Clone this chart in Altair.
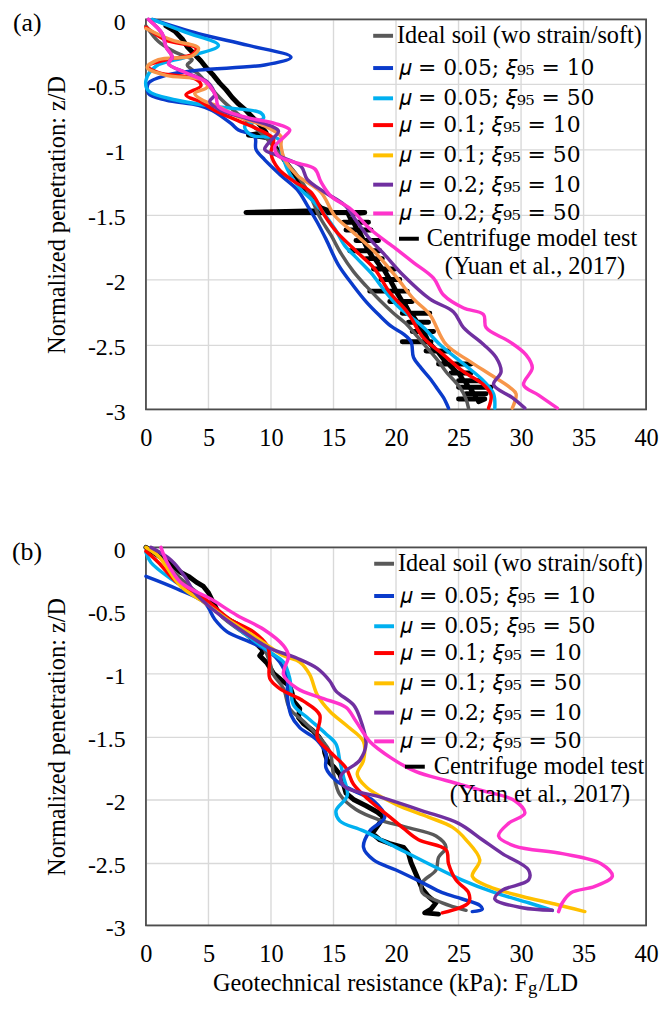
import altair as alt
import pandas as pd

# ---------------- data ----------------
X_TICKS = [0, 5, 10, 15, 20, 25, 30, 35, 40]
Y_TICKS = [0, -0.5, -1, -1.5, -2, -2.5, -3]

LEGEND_LABELS = [
    "Ideal soil (wo strain/soft)",
    "𝜇 = 0.05; 𝜉₉₅ = 10",
    "𝜇 = 0.05; 𝜉₉₅ = 50",
    "𝜇 = 0.1; 𝜉₉₅ = 10",
    "𝜇 = 0.1; 𝜉₉₅ = 50",
    "𝜇 = 0.2; 𝜉₉₅ = 10",
    "𝜇 = 0.2; 𝜉₉₅ = 50",
    "Centrifuge model test",
]
LEGEND_NOTE = "(Yuan et al., 2017)"
PANEL_TAGS = ["(a)", "(b)"]
X_TITLE_MAIN = "Geotechnical resistance (kPa): F"
X_TITLE_SUB = "g"
X_TITLE_END = "/LD"
Y_TITLE = "Normalized penetration: z/D"

# ----- panel (a) -----
A_GRAY_X = [0.0, 1.0, 2.1, 3.0, 3.7, 3.3, 3.6, 4.2, 5.3, 6.3, 7.9, 9.5, 10.8, 12.1, 13.0, 13.9, 14.8,
            15.6, 16.6, 17.6, 18.7, 19.8, 20.9, 21.8, 22.7, 23.4, 24.0, 25.1, 25.6, 25.8]
A_GRAY_Z = [-0.05, -0.17, -0.24, -0.28, -0.31, -0.35, -0.38, -0.42, -0.54, -0.64, -0.77, -0.90, -1.05, -1.20,
            -1.33, -1.52, -1.66, -1.80, -1.94, -2.05, -2.16, -2.26, -2.35, -2.45, -2.55, -2.63, -2.71, -2.83,
            -2.92, -2.99]

A_BLUE_X = [0.5, 4.2, 8.2, 11.6, 9.5, 4.2, 1.6, 0.2, 0.2, 1.6, 4.2, 5.3, 6.8, 7.4, 8.7, 8.8, 9.5, 10.8,
            12.1, 12.9, 13.7, 14.4, 15.4, 16.6, 17.6, 18.6, 19.6, 20.6, 21.2, 21.4, 22.0, 22.7, 23.3, 23.8, 24.2]
A_BLUE_Z = [0.0, -0.11, -0.20, -0.29, -0.35, -0.39, -0.43, -0.49, -0.57, -0.62, -0.66, -0.70, -0.80, -0.85,
            -0.90, -1.00, -1.08, -1.20, -1.31, -1.43, -1.56, -1.69, -1.89, -2.05, -2.17, -2.27, -2.36, -2.42,
            -2.48, -2.60, -2.68, -2.76, -2.84, -2.91, -2.99]

A_CYAN_X = [0.5, 3.2, 5.8, 3.2, 0.8, 0.0, 0.2, 2.4, 5.5, 9.2, 9.4, 7.9, 8.4, 10.6, 10.8, 11.3, 12.4, 13.5,
            15.1, 15.9, 16.9, 18.0, 19.2, 20.3, 21.2, 22.2, 23.5, 25.4, 27.0, 27.8, 27.9]
A_CYAN_Z = [0.0, -0.10, -0.20, -0.29, -0.36, -0.47, -0.55, -0.62, -0.67, -0.72, -0.76, -0.82, -0.89, -0.92,
            -1.00, -1.15, -1.31, -1.41, -1.61, -1.74, -1.84, -1.95, -2.10, -2.22, -2.29, -2.37, -2.50, -2.65,
            -2.78, -2.88, -2.99]

A_RED_X = [0.0, 1.6, 4.0, 3.7, 1.6, 0.2, 1.0, 4.0, 4.4, 3.2, 4.5, 5.5, 7.4, 9.5, 10.2, 10.0, 10.6, 11.9,
           13.2, 14.3, 15.3, 16.9, 18.3, 19.5, 20.9, 22.2, 23.8, 25.4, 27.0, 27.6, 27.4]
A_RED_Z = [-0.06, -0.16, -0.22, -0.27, -0.31, -0.36, -0.41, -0.46, -0.51, -0.58, -0.64, -0.70, -0.78, -0.87,
           -0.92, -1.03, -1.15, -1.25, -1.33, -1.51, -1.64, -1.79, -1.92, -2.10, -2.25, -2.45, -2.58, -2.71,
           -2.81, -2.89, -2.99]

A_ORANGE_X = [0.0, 2.1, 4.2, 3.7, 1.0, 0.1, 1.6, 4.7, 4.9, 3.9, 4.5, 5.8, 7.4, 9.5, 10.8, 10.8, 11.1, 12.1,
              14.0, 15.1, 16.6, 18.3, 20.1, 21.4, 22.7, 24.0, 25.9, 27.5, 29.1, 29.6, 29.3]
A_ORANGE_Z = [-0.07, -0.16, -0.22, -0.28, -0.31, -0.37, -0.43, -0.47, -0.52, -0.57, -0.62, -0.67, -0.75,
              -0.82, -0.90, -0.97, -1.08, -1.20, -1.33, -1.51, -1.64, -1.79, -1.99, -2.15, -2.27, -2.50, -2.63,
              -2.73, -2.83, -2.88, -2.99]

A_PURPLE_X = [0.2, 1.3, 1.6, 2.1, 1.8, 3.2, 4.9, 5.5, 5.1, 5.8, 8.0, 10.0, 10.6, 9.8, 9.5, 10.6, 12.4, 12.9,
              14.3, 15.9, 16.9, 18.0, 19.0, 20.6, 22.7, 24.6, 25.4, 27.0, 28.0, 28.4, 27.8, 29.3, 30.3]
A_PURPLE_Z = [0.0, -0.11, -0.21, -0.29, -0.34, -0.41, -0.48, -0.58, -0.63, -0.69, -0.76, -0.82, -0.86, -0.95,
              -1.00, -1.05, -1.13, -1.23, -1.33, -1.43, -1.56, -1.70, -1.80, -1.97, -2.15, -2.25, -2.37, -2.50,
              -2.60, -2.71, -2.81, -2.91, -2.99]

A_PINK_X = [0.2, 1.3, 1.6, 2.1, 1.8, 3.2, 4.8, 5.3, 5.6, 5.8, 7.9, 10.3, 11.5, 11.1, 10.3, 10.6, 11.9, 13.5,
            14.0, 14.8, 16.4, 17.9, 19.8, 21.4, 23.0, 23.8, 25.4, 27.0, 27.2, 29.1, 30.4, 30.9, 30.2, 31.4, 32.9]
A_PINK_Z = [0.0, -0.11, -0.21, -0.29, -0.34, -0.41, -0.48, -0.54, -0.59, -0.67, -0.75, -0.80, -0.85, -0.90,
            -0.98, -1.05, -1.10, -1.15, -1.25, -1.36, -1.46, -1.61, -1.75, -1.87, -1.99, -2.12, -2.22, -2.27,
            -2.37, -2.48, -2.58, -2.68, -2.81, -2.89, -2.99]

# centrifuge record: main trace with the horizontal scatter bars of the test data
A_TEST_X = [1.6, 2.3, 2.9, 3.3, 3.9, 4.4, 4.9, 5.4, 5.9, 6.4, 6.9, 7.4, 8.0, 8.6, 9.2, 9.6, 8.2, 9.8, 10.2,
            10.7, 11.2, 11.8, 12.3, 12.8, 13.4, 14.0, 14.6, 8.0, 17.5, 16.2,
            16.5, 15.8, 17.8, 16.6,
            16.9, 16.0, 18.0, 17.0,
            17.4, 16.8, 18.6, 17.4,
            17.8, 16.3, 18.7, 17.8,
            18.2, 17.6, 18.9, 18.3,
            18.9, 18.2, 19.9, 19.0,
            19.5, 18.8, 20.3, 19.5,
            20.0, 17.9, 20.9, 20.0,
            20.5, 19.5, 21.3, 20.6,
            21.1, 20.5, 22.7, 21.2,
            21.7, 21.0, 22.6, 21.8,
            22.1, 21.3, 23.0, 22.2,
            22.6, 20.5, 22.8, 22.6,
            23.2, 22.4, 24.2, 23.3,
            24.1, 23.4, 26.0, 24.2,
            24.9, 24.4, 26.0, 25.0,
            25.4, 25.0, 26.8, 25.5,
            25.8, 25.0, 27.6, 25.9,
            26.2, 25.6, 27.2, 26.3,
            26.4, 25.0, 27.1, 26.6]
A_TEST_Z = [-0.05, -0.09, -0.15, -0.21, -0.27, -0.32, -0.38, -0.43, -0.49, -0.54, -0.60, -0.65, -0.70, -0.76,
            -0.82, -0.87, -0.89, -0.91, -0.96, -1.03, -1.10, -1.18, -1.25, -1.32, -1.39, -1.45, -1.47, -1.485,
            -1.485, -1.50,
            -1.56, -1.56, -1.56, -1.56,
            -1.62, -1.62, -1.62, -1.62,
            -1.70, -1.70, -1.70, -1.70,
            -1.78, -1.78, -1.78, -1.78,
            -1.84, -1.84, -1.84, -1.84,
            -1.92, -1.92, -1.92, -1.92,
            -2.00, -2.00, -2.00, -2.00,
            -2.09, -2.09, -2.09, -2.09,
            -2.17, -2.17, -2.17, -2.17,
            -2.26, -2.26, -2.26, -2.26,
            -2.33, -2.33, -2.33, -2.33,
            -2.40, -2.40, -2.40, -2.40,
            -2.48, -2.48, -2.48, -2.48,
            -2.55, -2.55, -2.55, -2.55,
            -2.65, -2.65, -2.65, -2.65,
            -2.72, -2.72, -2.72, -2.72,
            -2.78, -2.78, -2.78, -2.78,
            -2.83, -2.83, -2.83, -2.83,
            -2.88, -2.88, -2.88, -2.88,
            -2.92, -2.92, -2.92, -2.94]

# ----- panel (b) -----
B_GRAY_X = [0.0, 1.0, 2.8, 4.7, 6.3, 8.1, 9.4, 9.9, 10.2, 11.0, 11.5, 12.6, 13.9, 14.7, 15.0, 15.5, 16.8,
            18.6, 20.8, 23.2, 24.0, 23.4, 23.2, 22.1, 22.1, 23.7, 25.6]
B_GRAY_Z = [0.0, -0.07, -0.25, -0.41, -0.57, -0.70, -0.80, -0.91, -1.01, -1.12, -1.28, -1.38, -1.51, -1.62,
            -1.80, -1.96, -2.08, -2.16, -2.22, -2.29, -2.38, -2.46, -2.56, -2.66, -2.74, -2.82, -2.88]

B_BLUE_X = [0.0, 2.5, 4.7, 5.5, 6.5, 8.3, 9.9, 10.7, 11.3, 11.3, 11.6, 12.3, 13.7, 14.4, 14.4, 15.2, 16.6,
            18.2, 19.1, 17.9, 17.4, 18.2, 20.0, 22.1, 23.7, 25.3, 26.7, 26.9, 26.1]
B_BLUE_Z = [-0.23, -0.33, -0.44, -0.57, -0.67, -0.75, -0.83, -0.91, -1.04, -1.17, -1.33, -1.43, -1.53, -1.64,
            -1.75, -1.85, -1.93, -2.01, -2.14, -2.25, -2.38, -2.48, -2.56, -2.66, -2.74, -2.79, -2.84, -2.87,
            -2.89]

B_CYAN_X = [0.0, 0.4, 2.0, 4.1, 6.0, 8.1, 9.9, 11.0, 11.5, 11.8, 12.9, 14.4, 15.2, 15.5, 15.8, 16.1, 15.2,
            15.5, 17.4, 20.0, 22.6, 25.3, 27.9, 30.6, 32.5]
B_CYAN_Z = [-0.04, -0.12, -0.25, -0.38, -0.54, -0.70, -0.83, -0.91, -1.04, -1.25, -1.35, -1.48, -1.56, -1.69,
            -1.82, -1.97, -2.09, -2.17, -2.25, -2.38, -2.51, -2.64, -2.74, -2.82, -2.88]

B_RED_X = [0.0, 1.0, 2.5, 4.7, 6.7, 8.6, 9.7, 9.9, 9.9, 10.7, 12.6, 13.9, 13.7, 14.7, 16.0, 16.6, 17.9,
           19.4, 20.6, 21.8, 24.0, 24.2, 24.8, 25.8, 25.8, 23.7]
B_RED_Z = [-0.03, -0.12, -0.28, -0.41, -0.57, -0.67, -0.78, -0.88, -1.04, -1.12, -1.22, -1.33, -1.51, -1.62,
           -1.75, -1.88, -2.01, -2.13, -2.23, -2.32, -2.40, -2.51, -2.64, -2.74, -2.82, -2.90]

B_YELLOW_X = [0.0, 1.0, 2.8, 4.7, 6.5, 8.6, 11.0, 12.3, 13.1, 13.7, 14.7, 16.0, 17.4, 17.4, 16.9, 17.6,
              20.0, 22.6, 24.5, 25.6, 26.7, 26.1, 27.4, 30.1, 32.7, 35.1]
B_YELLOW_Z = [0.0, -0.07, -0.31, -0.44, -0.57, -0.70, -0.86, -0.91, -1.01, -1.17, -1.30, -1.41, -1.54, -1.69,
              -1.80, -1.90, -2.04, -2.14, -2.22, -2.32, -2.48, -2.61, -2.69, -2.77, -2.83, -2.89]

B_PURPLE_X = [0.4, 2.0, 3.1, 3.9, 5.7, 7.8, 9.9, 12.1, 13.7, 14.7, 15.2, 16.6, 17.1, 17.6, 17.1, 15.6, 15.9,
              18.7, 22.1, 25.0, 26.9, 28.5, 30.6, 30.6, 28.5, 27.9, 30.1, 32.5]
B_PURPLE_Z = [0.0, -0.10, -0.23, -0.36, -0.52, -0.67, -0.80, -0.88, -0.96, -1.06, -1.14, -1.25, -1.35, -1.56,
              -1.69, -1.81, -1.90, -1.98, -2.09, -2.19, -2.32, -2.43, -2.56, -2.64, -2.72, -2.79, -2.86, -2.88]

B_PINK_X = [1.2, 1.7, 2.8, 5.2, 7.3, 9.4, 11.0, 11.4, 11.0, 12.1, 14.2, 16.0, 16.8, 17.9, 19.6, 21.6, 24.0,
            26.9, 29.5, 30.3, 29.0, 28.2, 29.5, 33.3, 36.4, 37.3, 35.9, 34.0, 33.3, 33.0]
B_PINK_Z = [0.0, -0.12, -0.28, -0.41, -0.54, -0.65, -0.78, -0.86, -1.01, -1.12, -1.20, -1.27, -1.38, -1.54,
            -1.67, -1.78, -1.85, -1.93, -2.01, -2.11, -2.19, -2.29, -2.37, -2.43, -2.51, -2.61, -2.69, -2.74,
            -2.82, -2.89]

B_TEST_X = [0.0, 0.6, 1.2, 1.8, 2.2, 2.8, 3.4, 4.1, 4.6, 5.0, 5.3, 5.7, 6.2, 6.7, 7.3, 7.8, 8.2, 8.8, 9.4,
            9.1, 9.7, 10.2, 10.8, 11.5, 11.7, 11.8, 12.3, 12.2, 12.6, 13.3, 13.8, 14.2, 14.3, 14.5, 15.0, 15.5,
            15.8, 16.0, 16.6, 17.6, 18.5, 19.0, 18.6, 18.1, 18.7, 19.5, 20.6, 21.0, 21.2, 21.5, 21.8, 22.1,
            22.6, 23.2, 22.8, 22.3, 23.4]
B_TEST_Z = [0.0, -0.04, -0.08, -0.12, -0.15, -0.20, -0.23, -0.28, -0.31, -0.36, -0.42, -0.50, -0.55, -0.58,
            -0.61, -0.65, -0.70, -0.76, -0.82, -0.86, -0.92, -1.00, -1.05, -1.10, -1.16, -1.22, -1.28, -1.35,
            -1.40, -1.45, -1.50, -1.56, -1.63, -1.69, -1.74, -1.80, -1.88, -1.95, -2.00, -2.05, -2.10, -2.14,
            -2.20, -2.27, -2.32, -2.35, -2.38, -2.43, -2.50, -2.57, -2.64, -2.71, -2.77, -2.82, -2.87, -2.90,
            -2.91]

# ---------------- styles / layout ----------------
SERIF = "Liberation Serif"
MATH = "DejaVu Serif"
GRID = "#D9D9D9"
BORDER = "#4D4D4D"
GRAY, BLUE, CYAN, RED = "#595959", "#0A3BCB", "#00B0F0", "#FF0000"
ORANGE, GOLD, PURPLE, PINK, BLACK = "#F7964A", "#FFC000", "#7030A0", "#FF33CC", "#000000"
LEGEND_COLORS = [GRAY, BLUE, CYAN, RED, GOLD, PURPLE, PINK, BLACK]
LEGEND_ROW_Y = [16.5, 49, 79.5, 106.5, 137, 166.5, 195.5, 221, 250]

PLOT_W = 504
A_TOP, A_BOT = 0, 393          # panel (a) plot area, in chart pixels
B_TOP, B_BOT = 532, 913        # panel (b) plot area
TOTAL_H = 913
TITLE_BASE = 979.5             # baseline of the bottom x title

DUMMY = pd.DataFrame({"k": [0]})


def xenc(offset):
    return alt.X("x:Q", scale=alt.Scale(domain=[0, 40], nice=False, zero=False),
                 axis=alt.Axis(values=X_TICKS, title=None, labelPadding=17, tickSize=0, grid=False,
                               orient="bottom", offset=offset))


def yenc(top, bot):
    return alt.Y("z:Q", scale=alt.Scale(domain=[-3, 0], nice=False, zero=False, range=[bot, top]),
                 axis=alt.Axis(values=Y_TICKS, title=Y_TITLE, orient="left", grid=True,
                               labelExpr="'' + datum.value", labelPadding=21, titlePadding=18,
                               labelOffset=3, labelFontSize=24, tickSize=0))


def line(xs, zs, color, X, Y, width=3.5, interp="catmull-rom"):
    df = pd.DataFrame({"x": xs, "z": zs, "i": list(range(len(xs)))})
    return alt.Chart(df).mark_line(color=color, strokeWidth=width, interpolate=interp,
                                   strokeCap="round", strokeJoin="round").encode(
        x=X, y=Y, order=alt.Order("i:Q"))


def vgrid(X, top, bot):
    return alt.Chart(pd.DataFrame({"x": X_TICKS})).mark_rule(color=GRID, strokeWidth=1.4).encode(
        x=X, y=alt.value(top), y2=alt.value(bot))


def border(top, bot):
    return alt.Chart(DUMMY).mark_rect(fillOpacity=0, stroke=BORDER, strokeWidth=1.8).encode(
        x=alt.value(0), x2=alt.value(PLOT_W), y=alt.value(top), y2=alt.value(bot))


def text(t, x, y, size, font=SERIF, align="left", baseline="middle"):
    return alt.Chart(DUMMY).mark_text(text=t, font=font, fontSize=size, align=align,
                                      baseline=baseline, color="black").encode(
        x=alt.value(x), y=alt.value(y))


def rule(x1, x2, y, color):
    return alt.Chart(DUMMY).mark_rule(color=color, strokeWidth=4).encode(
        x=alt.value(x1), x2=alt.value(x2), y=alt.value(y))


def legend(dy, sym_x, test_sym_x, test_text_x, note_cx):
    layers = []
    for k in range(8):
        y = LEGEND_ROW_Y[k] + dy
        if k < 7:
            layers.append(rule(sym_x, sym_x + 20, y, LEGEND_COLORS[k]))
            if k == 0:
                layers.append(text(LEGEND_LABELS[k], sym_x + 24, y, 24.5))
            else:
                layers.append(text(LEGEND_LABELS[k], sym_x + 26, y, 22, font=MATH))
        else:
            layers.append(rule(test_sym_x, test_sym_x + 20, y, LEGEND_COLORS[k]))
            layers.append(text(LEGEND_LABELS[k], test_text_x, y, 24.5))
    layers.append(text(LEGEND_NOTE, note_cx, LEGEND_ROW_Y[8] + dy, 24.5, align="center"))
    return layers


XA, YA = xenc(-(B_BOT - A_BOT)), yenc(A_TOP, A_BOT)
XB, YB = xenc(0), yenc(B_TOP, B_BOT)

panel_a = alt.layer(
    vgrid(XA, A_TOP, A_BOT),
    border(A_TOP, A_BOT),
    line(A_TEST_X, A_TEST_Z, BLACK, XA, YA, 5, "linear"),
    line(A_GRAY_X, A_GRAY_Z, GRAY, XA, YA),
    line(A_BLUE_X, A_BLUE_Z, BLUE, XA, YA),
    line(A_CYAN_X, A_CYAN_Z, CYAN, XA, YA),
    line(A_RED_X, A_RED_Z, RED, XA, YA),
    line(A_ORANGE_X, A_ORANGE_Z, ORANGE, XA, YA),
    line(A_PURPLE_X, A_PURPLE_Z, PURPLE, XA, YA),
    line(A_PINK_X, A_PINK_Z, PINK, XA, YA),
    *legend(A_TOP, 229, 255, 283, 392),
    text(PANEL_TAGS[0], -134, A_TOP + 3.8, 26),
)

panel_b = alt.layer(
    vgrid(XB, B_TOP, B_BOT),
    border(B_TOP, B_BOT),
    line(B_TEST_X, B_TEST_Z, BLACK, XB, YB, 5, "linear"),
    line(B_GRAY_X, B_GRAY_Z, GRAY, XB, YB),
    line(B_BLUE_X, B_BLUE_Z, BLUE, XB, YB),
    line(B_CYAN_X, B_CYAN_Z, CYAN, XB, YB),
    line(B_RED_X, B_RED_Z, RED, XB, YB),
    line(B_YELLOW_X, B_YELLOW_Z, GOLD, XB, YB),
    line(B_PURPLE_X, B_PURPLE_Z, PURPLE, XB, YB),
    line(B_PINK_X, B_PINK_Z, PINK, XB, YB),
    *legend(B_TOP, 230, 261, 290, 397),
    text(PANEL_TAGS[1], -135, B_TOP + 4.3, 26),
    text(X_TITLE_MAIN, 385, TITLE_BASE, 24.5, align="right", baseline="alphabetic"),
    text(X_TITLE_SUB, 385, TITLE_BASE + 3, 19, baseline="alphabetic"),
    text(X_TITLE_END, 396, TITLE_BASE, 24.5, baseline="alphabetic"),
)

chart = alt.layer(panel_a, panel_b).resolve_scale(
    x="independent", y="independent"
).properties(
    width=PLOT_W, height=TOTAL_H,
    autosize=alt.AutoSizeParams(type="none"),
    padding={"left": 139, "top": 7.7, "right": 13, "bottom": 74},
    background="white",
).configure_view(
    strokeWidth=0
).configure_axis(
    domain=False, ticks=False, gridColor=GRID, gridWidth=1.4,
    labelFont=SERIF, labelFontSize=24.5, labelColor="black", labelFlush=False,
    labelOverlap=False, titleFont=SERIF, titleFontSize=24.5, titleFontWeight="normal",
    titleColor="black",
)

chart.save("out.html", embed_options={"renderer": "svg", "actions": False})
